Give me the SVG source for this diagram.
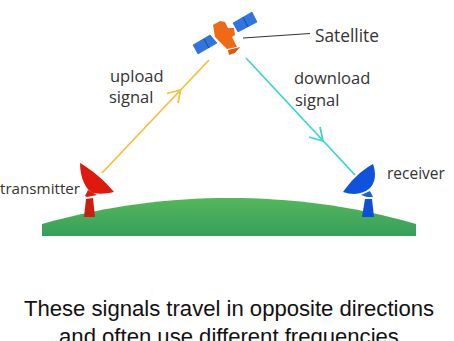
<svg xmlns="http://www.w3.org/2000/svg" width="454" height="341" viewBox="0 0 454 341">
  <style>
    .lbl { font-family: "Open Sans", "Noto Sans", sans-serif; font-size: 16.5px; fill: #333; }
    .cap { font-family: "Liberation Sans", Arial, sans-serif; font-size: 22.1px; fill: #111; text-anchor: middle; }
    .up { fill: none; stroke: #f5c13d; stroke-width: 1.8; }
    .down { fill: none; stroke: #3fd5cc; stroke-width: 1.8; }
  </style>
  <defs>
    <linearGradient id="hill" x1="0" y1="0" x2="0" y2="1">
      <stop offset="0" stop-color="#55b65a"/>
      <stop offset="1" stop-color="#35a05c"/>
    </linearGradient>
  </defs>
  <rect width="454" height="341" fill="#fff"/>

  <g id="ground">
    <path d="M42 224 C110 205 170 198 229 198 C290 198 350 205 416 224 L416 236 L42 236 Z" fill="url(#hill)"/>
  </g>

  <g id="connectors">
    <path class="up" d="M102 173 L209 60"/>
    <path class="up" d="M167 93.500 L180.500 90 L178 103"/>
    <path class="down" d="M246 58 L355 175"/>
    <path class="down" d="M309 137 L323 141 L320 127"/>
    <path d="M243 38 L310 33.500" fill="none" stroke="#333" stroke-width="1.100"/>
  </g>

  <g id="satellite">
    <g fill="#2f74e0" stroke="#1f5fc4" stroke-width="0.600">
      <path d="M193 45 L210 35 L217 43 L198 54 Z"/>
      <path d="M233 23 L252 12 L257 22 L238 32 Z"/>
    </g>
    <path d="M204 39 L209 48 M243 17 L248 27" stroke="#174a9e" stroke-width="1"/>
    <path d="M213 25 L220 21 L225 22 L228 28 L234 28 L235 35 L232 37 L237 47 L227 49 L215 37 Z" fill="#ee6a14"/>
    <path d="M228 50 L240 47 L235 53 L229 55 Z" fill="#d9590f"/>
    <text class="lbl" x="315" y="41.500" style="font-size:17.300px">Satellite</text>
  </g>

  <g id="transmitter">
    <path d="M80 163 C92 170 105 181 114 192 C106 194 99 194 93 193 C86 190 80 178 80 163 Z" fill="#e0190f"/>
    <path d="M85 196 L88 190 L97 195 L87 197 Z" fill="#d3200f"/>
    <path d="M86 199 L93 198 L95 217 L84 217 Z" fill="#cb1d10"/>
    <text class="lbl" x="0" y="194" style="font-size:15.200px">transmitter</text>
  </g>

  <g id="receiver">
    <path d="M373 164 C376 172 376 182 370 188 C362 195 352 195 343 192 C350 182 360 171 373 164 Z" fill="#0f52dc"/>
    <path d="M361 195 L370 191 L373 197 L367 197 Z" fill="#1a5ce2"/>
    <path d="M365 199 L372 199 L374 217 L362 217 Z" fill="#0e4fd8"/>
    <text class="lbl" x="387" y="179" style="font-size:15.500px">receiver</text>
  </g>

  <g id="labels">
    <text class="lbl" x="110" y="81.500">upload</text>
    <text class="lbl" x="109" y="103">signal</text>
    <text class="lbl" x="294" y="84">download</text>
    <text class="lbl" x="295" y="106">signal</text>
  </g>

  <g id="caption">
    <text class="cap" x="229" y="316">These signals travel in opposite directions</text>
    <text class="cap" x="229" y="344">and often use different frequencies</text>
  </g>
</svg>
